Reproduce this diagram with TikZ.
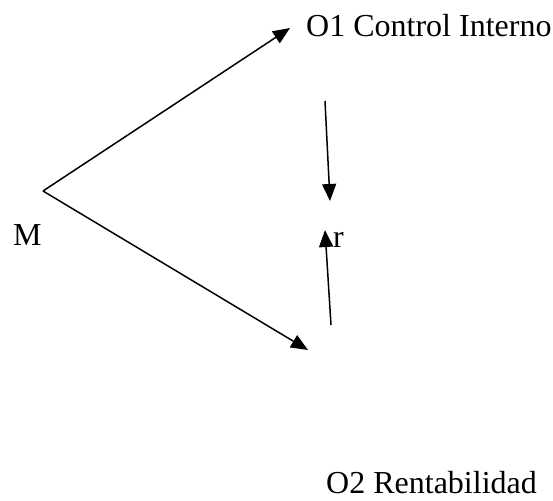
\documentclass[tikz,border=0pt]{standalone}
\usepackage{fontspec}
\setmainfont{Liberation Serif}
\usetikzlibrary{arrows.meta}
\begin{document}
\begin{tikzpicture}[x=1pt,y=-1pt,
  lbl/.style={anchor=base west,inner sep=0pt,font=\fontsize{32}{38}\selectfont},
  conn/.style={line width=1.5pt,-{Triangle[length=17pt,width=14pt]}}]
\useasboundingbox (0,0) rectangle (553,500);
\node[lbl] (o1) at (306,37) {O1 Control Interno};
\node[lbl] (o2) at (326,493) {O2 Rentabilidad};
\node[lbl] (m) at (13,245) {M};
\node[lbl] (r) at (333,247) {r};
\coordinate (apex) at (43,191);
\coordinate (t1) at (290,28);
\coordinate (t2) at (308,350);
\coordinate (d1s) at (325,101);
\coordinate (d1e) at (330,201);
\coordinate (u1s) at (331,325);
\coordinate (u1e) at (325,230);
\draw[conn] (apex) -- (t1);
\draw[conn] (apex) -- (t2);
\draw[conn] (d1s) -- (d1e);
\draw[conn] (u1s) -- (u1e);
\end{tikzpicture}
\end{document}
